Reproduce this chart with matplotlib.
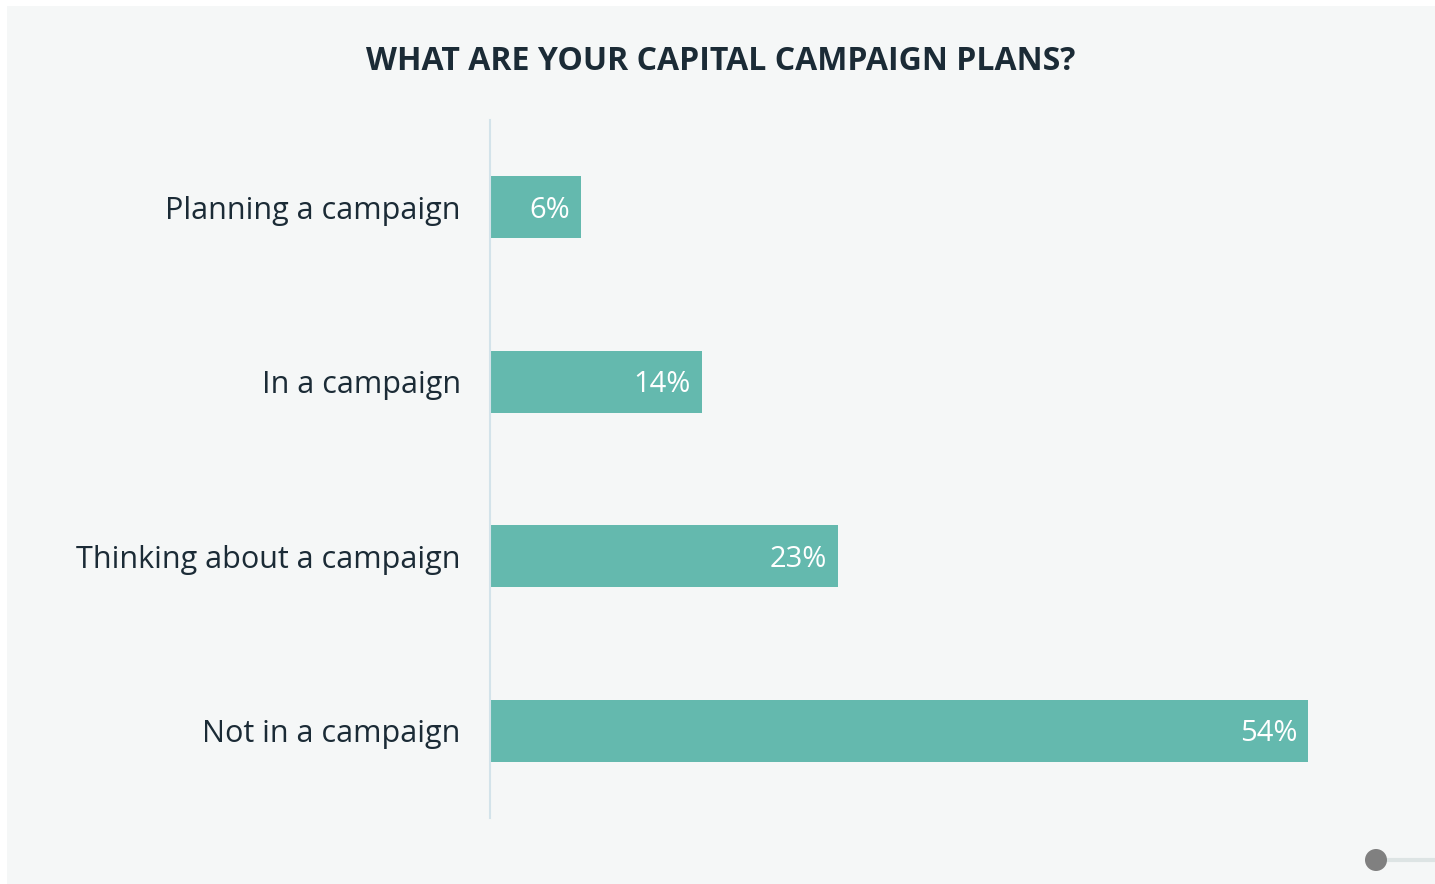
import matplotlib
matplotlib.use("Agg")
import matplotlib.pyplot as plt
from matplotlib.patches import Rectangle, Circle
from matplotlib.lines import Line2D

categories = ["Planning a campaign", "In a campaign", "Thinking about a campaign", "Not in a campaign"]
values = [6, 14, 23, 54]
value_labels = ["6%", "14%", "23%", "54%"]
title = "WHAT ARE YOUR CAPITAL CAMPAIGN PLANS?"

W, H = 1435, 884
BG = "#f5f7f7"
BAR = "#64b9ae"
TXT = "#1b2b36"

fig = plt.figure(figsize=(W / 100, H / 100), dpi=100)
fig.patch.set_facecolor("white")
fig.add_artist(Rectangle((7 / W, 0 / H), (W - 7) / W, (H - 6) / H,
                         transform=fig.transFigure, facecolor=BG, edgecolor="none", zorder=0))

# plot area: 490..1399 px across, 120..818 px down
ax = fig.add_axes([490 / W, 1 - 818 / H, 909 / W, 698 / H])
ax.set_facecolor("none")
ax.set_xlim(0, 60)
ax.set_ylim(3.5, -0.5)
ypos = list(range(len(categories)))
ax.barh(ypos, values, height=0.355, color=BAR, zorder=2)
for y, v, lab in zip(ypos, values, value_labels):
    ax.annotate(lab, (v, y), xytext=(-11, -3), textcoords="offset pixels",
                ha="right", va="center", color="white", fontsize=21, family="Open Sans")
ax.set_yticks(ypos)
ax.set_yticklabels(categories, fontsize=22, color=TXT, family="Open Sans")
ax.tick_params(axis="y", length=0, pad=21)
ax.set_xticks([])
for s in ["top", "right", "bottom"]:
    ax.spines[s].set_visible(False)
ax.spines["left"].set_color("#d3e3ea")
ax.spines["left"].set_linewidth(1.5)

fig.text(721 / W, 1 - 61 / H, title, ha="center", va="center",
         fontsize=23, fontweight="bold", color=TXT, family="Open Sans")

# slider widget at lower right
fig.add_artist(Line2D([1385 / W, 1.0], [1 - 860 / H] * 2, transform=fig.transFigure,
                      color="#dde4e4", linewidth=3, zorder=3))
fig.add_artist(Circle((1376, H - 860), 11, transform=None, facecolor="#808080",
                      edgecolor="none", zorder=4))

fig.savefig("out.png", dpi=100, facecolor=fig.get_facecolor())
